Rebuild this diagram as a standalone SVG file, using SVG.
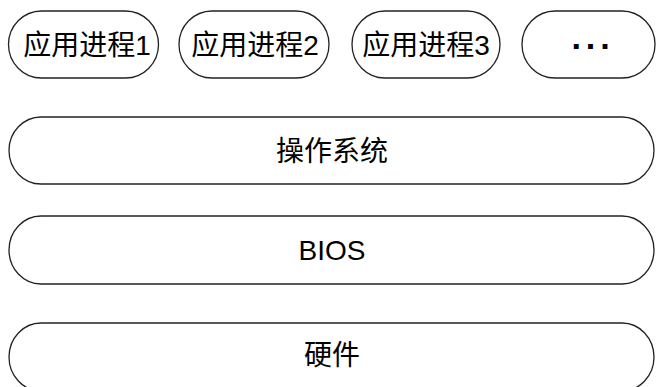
<svg xmlns="http://www.w3.org/2000/svg" width="656" height="387" viewBox="0 0 656 387">
<style>
.p{fill:#fff;stroke:#222;stroke-width:1.3}
.t{font-family:"Liberation Sans","Noto Sans CJK SC",sans-serif;font-size:28px;fill:#000;text-anchor:middle;dominant-baseline:central}
</style>
<rect width="656" height="387" fill="#fff"/>
<g id="app1"><rect class="p" x="8.5" y="11" width="150" height="67" rx="33" ry="33.5"/><text class="t" x="87" y="45">应用进程1</text></g>
<g id="app2"><rect class="p" x="179" y="11" width="150" height="67" rx="33" ry="33.5"/><text class="t" x="255" y="45">应用进程2</text></g>
<g id="app3"><rect class="p" x="352" y="11" width="148" height="67" rx="33" ry="33.5"/><text class="t" x="426" y="45">应用进程3</text></g>
<g id="more"><rect class="p" x="522" y="11" width="133" height="67" rx="33" ry="33.5"/><text class="t" x="593" y="46" style="font-weight:bold;font-size:34px;letter-spacing:3px">···</text></g>
<g id="os"><rect class="p" x="9" y="117" width="645" height="67" rx="32" ry="33.5"/><text class="t" x="332" y="151">操作系统</text></g>
<g id="bios"><rect class="p" x="9" y="216" width="645" height="68" rx="32" ry="34"/><text class="t" x="332" y="250">BIOS</text></g>
<g id="hw"><rect class="p" x="9" y="323" width="645" height="68" rx="32" ry="34"/><text class="t" x="332" y="355">硬件</text></g>
<g id="connectors"></g>
</svg>
